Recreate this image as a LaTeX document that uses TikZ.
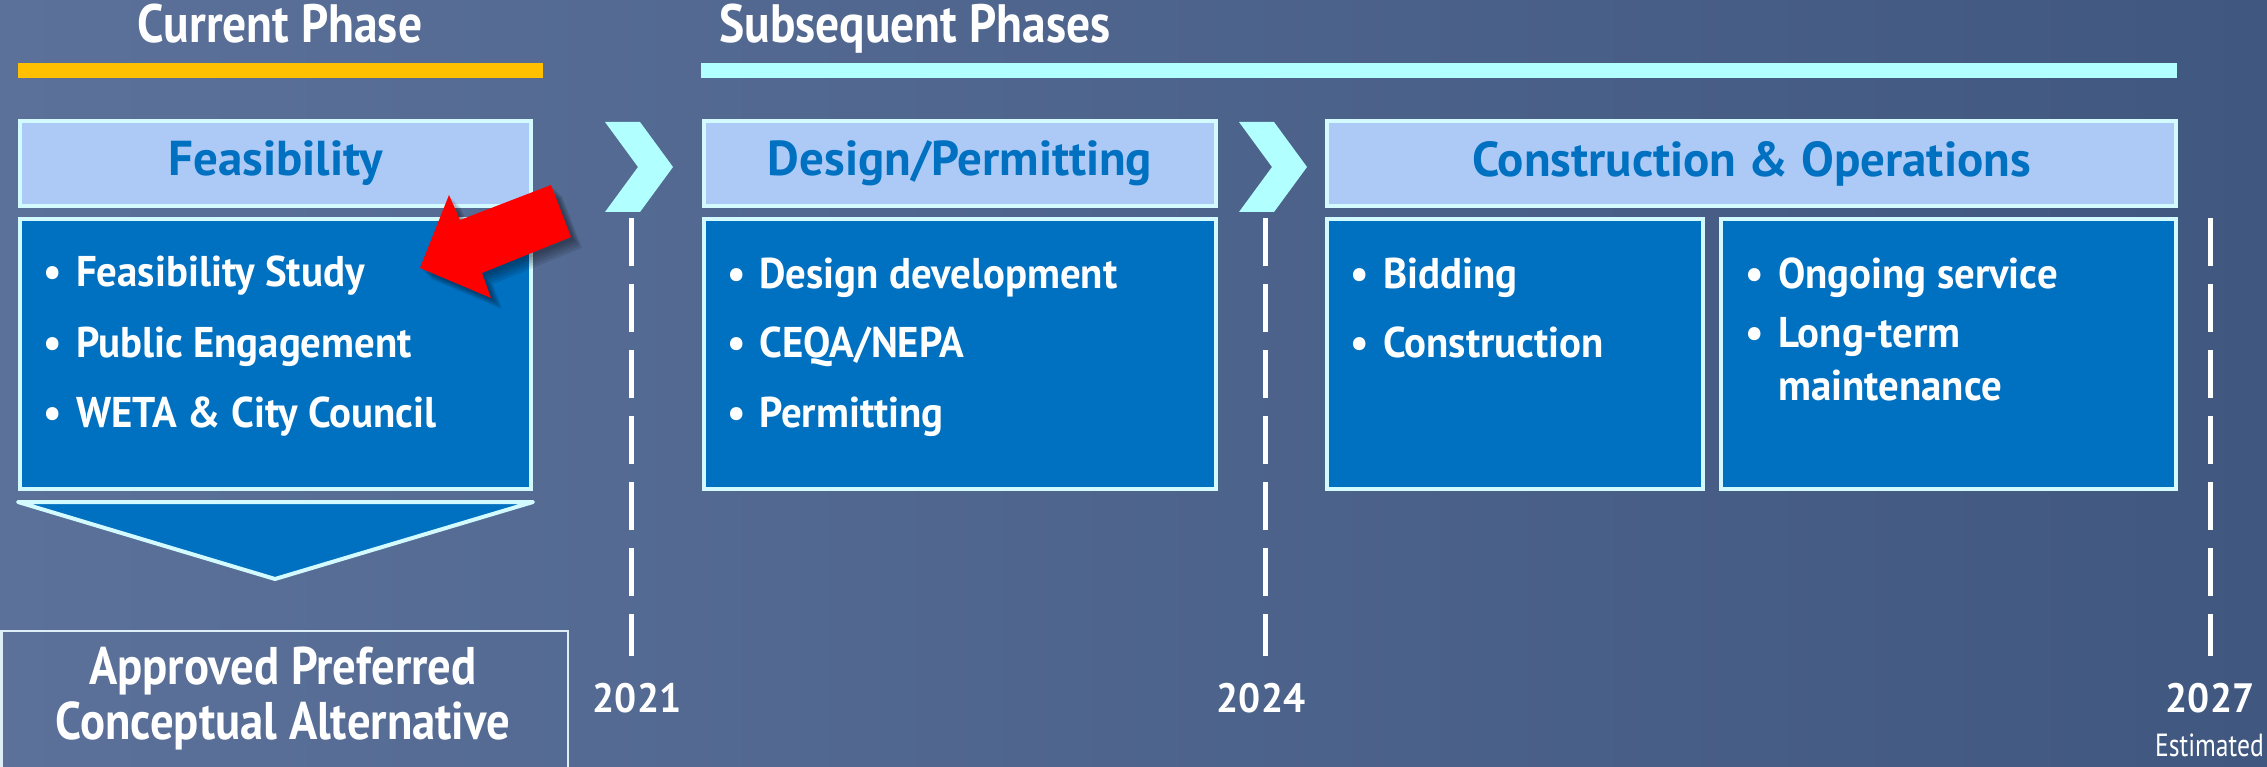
\documentclass[tikz,border=0pt]{standalone}
\usepackage{fontspec}
\setmainfont{PT Sans}[FakeStretch=0.95]
\newfontfamily\hdrfont{PT Sans}
\newfontfamily\ttlfont{PT Sans}[FakeStretch=0.88]
\newfontfamily\estfont{PT Sans}[FakeStretch=0.8]
\definecolor{bgA}{HTML}{5B719A}
\definecolor{bgB}{HTML}{40577F}
\definecolor{gold}{HTML}{FFC000}
\definecolor{cyanbar}{HTML}{B2FFFF}
\definecolor{edge}{HTML}{D2FAFF}
\definecolor{hdrfill}{HTML}{ADCAF7}
\definecolor{hdrtext}{HTML}{0070C0}
\definecolor{bodyfill}{HTML}{0070C0}
\definecolor{apedge}{HTML}{DDEEF7}
\begin{document}
\begin{tikzpicture}[x=1pt,y=-1pt,
  hdr/.style={draw=edge, line width=4pt, fill=hdrfill, text=hdrtext,
    font=\hdrfont\fontsize{49}{54}\selectfont\bfseries, inner sep=0pt, outer sep=0pt},
  body/.style={draw=edge, line width=4pt, fill=bodyfill, inner sep=0pt, outer sep=0pt},
  item/.style={anchor=base west, text=white, font=\fontsize{43}{53}\selectfont\bfseries, inner sep=0pt},
  title/.style={anchor=base, text=white, font=\ttlfont\fontsize{54}{60}\selectfont\bfseries, inner sep=0pt},
  apx/.style={anchor=base, text=white, font=\ttlfont\fontsize{53}{58}\selectfont\bfseries, inner sep=0pt},
  year/.style={anchor=base, text=white, font=\fontsize{41}{46}\selectfont\bfseries, inner sep=0pt},
  dashline/.style={draw=white, line width=5pt, dash pattern=on 48pt off 18pt},
  bar/.style={line width=15pt},
  chev/.pic={\fill[cyanbar] (0,0) -- (35,0) -- (68,45) -- (35,90) -- (0,90) -- (33,45) -- cycle;},
  redarrow/.pic={\path[pic actions] (420,268) -- (449,195) -- (460,220) -- (551,185) -- (571,237) -- (482,273) -- (491,298) -- cycle;}
]
\useasboundingbox (0,0) rectangle (2267,767);
\clip (0,0) rectangle (2267,767);
\shade[left color=bgA, right color=bgB] (0,0) rectangle (2267,767);

% phase titles and bars
\node[title] (tcur) at (280,43) {Current Phase};
\node[title] (tsub) at (915,43) {Subsequent Phases};
\draw[bar, gold] (18,71) -- (543,71);
\draw[bar, cyanbar] (701,71) -- (2177,71);

% headers
\node[hdr, minimum width=511pt, minimum height=85pt] (feasH) at (275.5,163.5) {Feasibility};
\node[hdr, minimum width=512pt, minimum height=85pt] (desH) at (960,163.5) {Design/Permitting};
\node[hdr, minimum width=849pt, minimum height=85pt] (conH) at (1751.5,163.5) {Construction \& Operations};

% bodies
\node[body, minimum width=511pt, minimum height=270pt] (feasB) at (275.5,354) {};
\node[body, minimum width=512pt, minimum height=270pt] (desB) at (960,354) {};
\node[body, minimum width=376pt, minimum height=270pt] (bidB) at (1515,354) {};
\node[body, minimum width=455pt, minimum height=270pt] (ongB) at (1948.5,354) {};

% bullets
\node[item] (fb1) at (43,287) {•}; \node[item] (f1) at (76,287) {Feasibility Study};
\node[item] (fb2) at (43,357) {•}; \node[item] (f2) at (76,357) {Public Engagement};
\node[item] (fb3) at (43,427) {•}; \node[item] (f3) at (76,427) {WETA \& City Council};

\node[item] (db1) at (727,288) {•}; \node[item] (d1) at (759,288) {Design development};
\node[item] (db2) at (727,357) {•}; \node[item] (d2) at (759,357) {CEQA/NEPA};
\node[item] (db3) at (727,427) {•}; \node[item] (d3) at (759,427) {Permitting};

\node[item] (bb1) at (1350,288) {•}; \node[item] (b1) at (1383,288) {Bidding};
\node[item] (bb2) at (1350,357) {•}; \node[item] (b2) at (1383,357) {Construction};

\node[item] (ob1) at (1745,288) {•}; \node[item] (o1) at (1778,288) {Ongoing service};
\node[item] (ob2) at (1745,347) {•}; \node[item] (o2) at (1778,347) {Long-term};
\node[item] (o3) at (1778,400) {maintenance};

% chevrons
\pic at (605,122) {chev};
\pic at (1239,122) {chev};

% dashed timeline markers
\coordinate (m1t) at (631,218); \coordinate (m1b) at (631,656);
\coordinate (m2t) at (1265,218); \coordinate (m2b) at (1265,656);
\coordinate (m3t) at (2210,218); \coordinate (m3b) at (2210,656);
\draw[dashline] (m1t) -- (m1b);
\draw[dashline] (m2t) -- (m2b);
\draw[dashline] (m3t) -- (m3b);

\node[year] (y1) at (637,712) {2021};
\node[year] (y2) at (1261,712) {2024};
\node[year] (y3) at (2210,712) {2027};
\node[anchor=base east, text=white, font=\estfont\fontsize{32}{36}\selectfont, inner sep=0pt] (est) at (2264,756) {Estimated};

% down arrow to outcome
\draw[draw=edge, line width=4pt, fill=bodyfill, line join=round] (18,502) -- (533,502) -- (275,579) -- cycle;

% outcome box
\draw[apedge, line width=2.5pt] (1.5,631) rectangle (568,800);
\node[apx] (ap1) at (283,684) {Approved Preferred};
\node[apx] (ap2) at (283,739) {Conceptual Alternative};

% red pointer arrow with soft shadow
\foreach \d in {3,5,7,9,11} {
  \pic[fill=black, fill opacity=0.09] at (\d,\d) {redarrow};
}
\pic[fill=red] at (0,0) {redarrow};
\end{tikzpicture}
\end{document}
